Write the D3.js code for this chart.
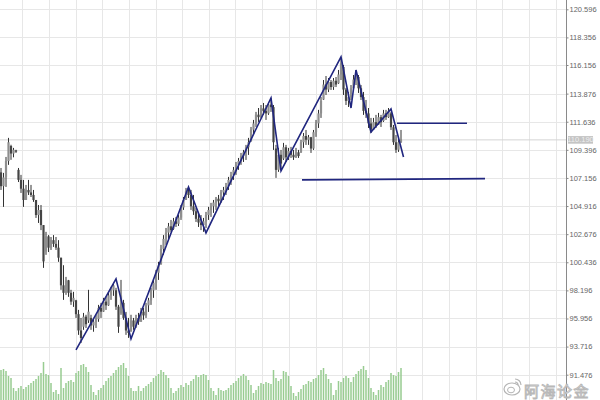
<!DOCTYPE html>
<html><head><meta charset="utf-8">
<script src="https://cdn.jsdelivr.net/npm/d3@7"></script>
<style>html,body{margin:0;padding:0;background:#fff;}svg{display:block;}</style>
</head><body>
<svg id="chart" width="600" height="400"></svg>
<script>
// ---- data ----
const highs = [107.95,107.56,108.83,110.35,109.8,109.55,109.4,107.95,107.4,107.0,
106.6,107.0,106.6,106.2,105.4,105.0,105.0,103.4,102.86,102.6,
102.45,102.6,102.45,102.2,100.8,100.2,99.27,99.03,98.24,98.08,
97.44,96.64,96.0,96.4,96.25,98.24,96.25,96.0,96.25,97.04,
97.2,97.6,97.68,98.0,98.48,98.8,98.4,97.04,99.03,97.44,
96.48,96.0,96.25,96.0,96.25,96.4,96.8,96.8,97.2,97.6,
98.4,99.03,99.83,100.47,101.82,102.6,103.17,103.57,103.81,103.97,
104.05,104.2,105.0,105.64,106.36,106.52,106.2,105.8,104.77,104.45,
104.2,103.97,104.45,104.85,105.17,105.4,105.64,105.8,106.2,106.44,
106.76,107.24,107.64,108.03,108.43,108.75,109.15,109.39,109.79,110.35,
111.22,111.78,112.42,112.73,112.97,113.13,112.97,113.21,113.53,112.97,
109.79,109.55,109.39,109.95,109.79,109.55,109.63,109.39,109.55,109.39,
110.19,110.74,110.98,110.58,110.43,110.98,111.78,112.58,113.61,114.96,
115.28,115.12,114.96,115.12,115.2,115.76,116.72,116.16,114.33,114.01,
114.56,115.36,115.76,115.36,114.56,114.01,113.37,112.73,111.94,111.94,
112.18,112.34,112.18,112.58,112.58,112.73,112.42,111.38,110.58,110.35,
110.98];
const lows = [106.2,104.85,106.44,108.2,108.6,108.8,109.15,106.83,105.96,104.85,
105.4,105.8,105.64,105.25,103.97,103.57,103.0,99.99,101.03,101.25,
101.42,101.66,101.42,100.47,98.24,97.44,97.84,97.68,97.04,96.88,
96.0,94.65,94.0,95.05,95.2,95.6,95.05,94.9,95.2,95.69,
96.0,96.48,96.64,96.96,97.44,97.76,96.64,94.81,96.25,95.85,
94.65,94.41,94.89,95.05,95.2,95.45,95.69,95.85,96.0,96.48,
97.04,97.6,98.24,99.03,100.23,101.03,101.82,102.22,102.86,103.02,
103.25,103.33,103.81,104.61,105.4,105.56,104.61,104.21,103.65,103.25,
103.0,102.86,103.17,103.81,104.05,104.37,104.61,104.85,105.17,105.4,
105.8,106.2,106.6,107.0,107.4,107.8,108.2,108.43,108.59,108.99,
110.03,110.58,111.22,111.62,111.94,112.18,111.78,112.18,112.42,109.39,
107.16,107.64,107.95,108.59,108.43,108.59,108.75,108.59,108.75,108.75,
109.15,109.55,109.79,109.79,109.15,109.39,110.43,111.14,111.94,113.37,
113.77,114.0,114.17,114.17,114.4,114.65,114.96,113.77,112.97,112.81,
113.37,114.17,114.56,113.93,113.37,112.18,111.94,111.14,110.74,110.98,
111.14,111.38,111.22,111.62,111.78,111.94,110.98,109.79,109.15,109.23,
109.95];
const opens = [107.6,106.5,107.2,108.5,109.7,109.1,109.35,107.8,107.0,106.3,
105.4,106.2,106.0,105.8,105.4,104.2,104.6,103.4,101.3,102.5,
101.6,102.2,101.9,101.6,100.8,98.6,98.0,99.0,98.0,97.3,
97.4,96.3,95.0,95.3,96.1,95.8,96.0,95.4,95.7,95.9,
96.8,96.5,97.3,97.0,97.8,98.2,98.2,96.9,96.4,97.2,
96.0,95.0,94.95,95.8,95.3,96.0,95.7,96.5,96.2,97.0,
97.4,98.2,98.8,99.6,100.3,101.5,102.3,102.8,103.3,103.1,
103.7,103.5,104.0,104.8,105.4,106.1,105.8,104.9,104.5,103.9,
103.6,103.4,103.7,104.2,104.6,104.9,105.2,105.5,105.3,106.0,
106.2,106.5,107.0,107.4,107.8,108.2,108.5,108.9,109.2,109.6,
110.1,111.0,111.5,112.2,112.0,112.7,112.5,112.3,113.0,112.8,
109.5,107.8,109.0,108.7,109.6,108.8,109.3,109.0,108.8,109.2,
109.2,110.0,110.5,110.2,110.4,109.5,110.8,111.5,112.3,113.4,
114.6,114.2,114.8,114.4,114.9,114.7,115.4,116.0,114.2,113.3,
113.6,114.3,115.0,115.2,114.3,113.6,112.5,112.3,111.5,111.0,
111.6,111.4,112.0,111.7,112.3,112.0,112.3,111.2,110.0,109.4,
110.0];
const closes = [106.5,107.2,108.5,110.0,109.1,109.4,109.25,107.0,106.3,105.4,
106.2,106.0,105.8,105.4,104.2,104.6,103.4,100.5,102.5,101.6,
102.2,101.9,101.6,100.8,98.6,98.0,99.0,98.0,97.3,97.6,
96.3,95.0,94.4,96.1,95.5,96.5,95.4,95.7,95.9,96.8,
96.5,97.3,97.0,97.8,98.2,98.6,96.9,95.3,97.8,96.0,
95.0,94.8,95.8,95.3,96.0,95.7,96.5,96.2,97.0,97.4,
98.2,98.8,99.6,100.2,101.5,102.3,102.8,103.3,103.0,103.7,
103.5,104.0,104.8,105.4,106.1,105.8,104.9,104.5,103.9,103.6,
103.4,103.7,104.2,104.6,104.9,105.2,105.5,105.3,106.0,106.2,
106.5,107.0,107.4,107.8,108.2,108.5,108.9,109.2,109.6,110.0,
111.0,111.5,112.2,112.0,112.7,112.5,112.3,113.0,112.8,110.0,
107.8,109.0,108.3,109.6,108.8,109.3,109.0,108.8,109.2,108.9,
110.0,110.5,110.2,110.4,109.5,110.8,111.5,112.3,113.3,114.6,
114.2,114.8,114.4,114.9,114.6,115.4,116.3,114.2,113.3,113.6,
114.3,115.0,115.4,114.3,113.6,112.5,112.3,111.5,111.0,111.6,
111.3,112.0,111.6,112.3,112.0,112.5,111.2,110.0,109.4,110.0,
110.2];
const volumes = [30,31,29,24,22,12,9,12,14,11,
13,15,17,19,21,24,27,38,26,25,
17,8,10,6,32,12,17,19,20,18,
27,29,35,36,33,28,15,8,5,10,
12,15,19,22,24,27,30,33,35,37,
32,24,12,9,9,14,9,12,14,16,
18,22,24,26,30,28,25,22,12,7,
9,12,15,13,17,15,19,21,25,23,
25,26,25,20,12,9,5,12,10,9,
10,12,15,17,19,22,24,26,24,20,
15,7,10,14,17,16,18,17,16,30,
22,19,21,29,28,24,14,7,4,8,
11,15,16,19,18,21,22,25,30,32,
26,21,17,5,10,19,18,22,24,22,
18,23,26,29,31,34,30,22,12,8,
5,10,15,13,18,20,27,25,24,28,
32];
// zigzag (bar index, price)
const zigIdx   = [30, 46, 52, 75, 82, 108, 112, 136, 140, 142, 148, 156, 161];
const zigPrice = [93.46, 99.11, 94.33, 106.44, 102.78, 113.53, 107.72, 116.80, 112.73, 115.76, 110.82, 112.65, 108.83];
// horizontal levels
const levelStartIdx = [158.4, 120.4];
const levelEndIdx   = [186.4, 193.6];
const levelStartPx  = [111.52, 107.0];
const levelEndPx    = [111.52, 107.1];
const priceTicks = [120.596,118.356,116.156,113.876,111.636,109.396,107.156,104.916,102.676,100.436,98.196,95.956,93.716,91.476];
const timeGrid = [8.4,19.1,29.8,40.4,51.1,61.8,72.4,83.1,93.8,104.4,115.1,125.8,136.4,147.1,157.8,168.4,179.1,189.8,200.4,211.1,221.8];
const currentPrice = 110.19;
const watermark = "阿海论金";

// ---- drawing ----
const svg = d3.select("#chart");
const W = 600, H = 400, axisX = 566.5;
const x = d3.scaleLinear().domain([0, 160]).range([1, 401]);
const y = d3.scaleLinear().domain([91.476, 120.596]).range([374.7, 9.3]);
const yv = d3.scaleLinear().domain([0, 40]).range([400, 360]);

svg.append("rect").attr("width", W).attr("height", H).attr("fill", "#fff");

// grid
const g = svg.append("g").attr("shape-rendering", "crispEdges");
g.selectAll("line.vg").data(timeGrid).join("line")
  .attr("x1", d => Math.round(x(d)) + 0.5).attr("x2", d => Math.round(x(d)) + 0.5)
  .attr("y1", 0).attr("y2", H).attr("stroke", "#e7e7e7");
g.selectAll("line.hg").data(priceTicks).join("line")
  .attr("x1", 0).attr("x2", axisX)
  .attr("y1", d => Math.round(y(d)) + 0.5).attr("y2", d => Math.round(y(d)) + 0.5)
  .attr("stroke", "#e7e7e7");

// volume bars
svg.append("g").selectAll("rect").data(volumes).join("rect")
  .attr("x", (d, i) => x(i) - 0.75).attr("width", 1.5)
  .attr("y", d => yv(d)).attr("height", d => yv(0) - yv(d))
  .attr("fill", "#98cc91");

// current price line
svg.append("line").attr("x1", 0).attr("x2", axisX)
  .attr("y1", y(currentPrice)).attr("y2", y(currentPrice))
  .attr("stroke", "#d4d4d4").attr("stroke-width", 1);

// candles
const cg = svg.append("g");
const idx = d3.range(highs.length);
cg.selectAll("line").data(idx).join("line")
  .attr("x1", i => x(i)).attr("x2", i => x(i))
  .attr("y1", i => y(highs[i])).attr("y2", i => y(lows[i]))
  .attr("stroke", "#333").attr("stroke-width", 1);
cg.selectAll("rect").data(idx).join("rect")
  .attr("x", i => x(i) - 1.1).attr("width", 2.2)
  .attr("y", i => y(Math.max(opens[i], closes[i])))
  .attr("height", i => Math.max(1, Math.abs(y(opens[i]) - y(closes[i]))))
  .attr("fill", i => closes[i] >= opens[i] ? "#8e8e8e" : "#454545");

// zigzag
const navy = "#20267f";
svg.append("path")
  .datum(d3.zip(zigIdx, zigPrice))
  .attr("d", d3.line().x(d => x(d[0])).y(d => y(d[1])))
  .attr("fill", "none").attr("stroke", navy).attr("stroke-width", 1.6)
  .attr("stroke-linejoin", "miter");

// levels
svg.append("g").selectAll("line").data(levelStartIdx).join("line")
  .attr("x1", (d) => x(d)).attr("x2", (d, i) => x(levelEndIdx[i]))
  .attr("y1", (d, i) => y(levelStartPx[i])).attr("y2", (d, i) => y(levelEndPx[i]))
  .attr("stroke", navy).attr("stroke-width", 1.6);

// price axis
svg.append("line").attr("x1", axisX).attr("x2", axisX).attr("y1", 0).attr("y2", H)
  .attr("stroke", "#8a8a8a").attr("stroke-width", 1);
const ax = svg.append("g").attr("transform", `translate(${axisX},0)`)
  .call(d3.axisRight(y).tickValues(priceTicks).tickFormat(d3.format(".3f")).tickSize(2).tickPadding(1));
ax.select(".domain").remove();
ax.selectAll(".tick line").attr("stroke", "#888");
ax.selectAll(".tick text").attr("fill", "#666")
  .style("font-family", "'Liberation Sans Narrow','Liberation Sans',sans-serif").style("font-size", "7.5px");

// current price box
const cy = y(currentPrice);
svg.append("rect").attr("x", 568).attr("y", cy - 3.8).attr("width", 25).attr("height", 7.6).attr("fill", "#c4c4c4");
svg.append("text").attr("x", 580.5).attr("y", cy + 2.6).attr("text-anchor", "middle")
  .attr("fill", "#eeeeee").style("font-family", "'Liberation Sans Narrow','Liberation Sans',sans-serif")
  .style("font-size", "7.5px").text(d3.format(".3f")(currentPrice));

// watermark
const wm = svg.append("g");
wm.append("ellipse").attr("cx", 512).attr("cy", 389).attr("rx", 8).attr("ry", 6)
  .attr("fill", "#fff").attr("stroke", "#b5b5b5").attr("stroke-width", 1.2);
wm.append("ellipse").attr("cx", 511).attr("cy", 390).attr("rx", 3.5).attr("ry", 2.8)
  .attr("fill", "none").attr("stroke", "#b5b5b5").attr("stroke-width", 1);
wm.append("path").attr("d", "M515,379 a6,6 0 0 1 6,6 M515,382 a3,3 0 0 1 3,3")
  .attr("fill", "none").attr("stroke", "#b5b5b5").attr("stroke-width", 1.2);
wm.append("text").attr("x", 524).attr("y", 397)
  .style("font-family", "'Noto Sans CJK SC',sans-serif").style("font-size", "15px")
  .attr("fill", "#fff").attr("stroke", "#b8b8b8").attr("stroke-width", 0.9)
  .attr("letter-spacing", "1.5").text(watermark);
</script>
</body></html>
